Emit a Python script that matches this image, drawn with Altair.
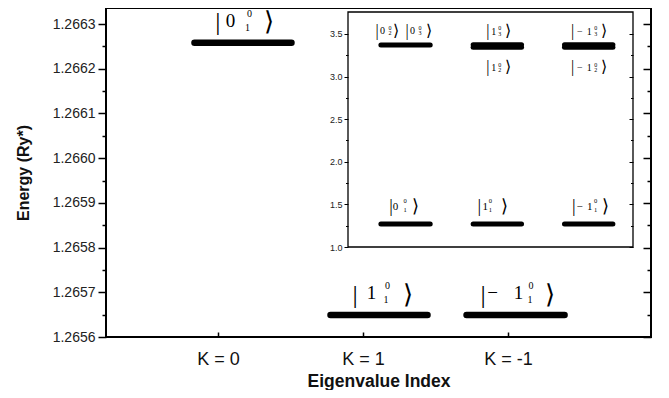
import altair as alt
import pandas as pd

# ---------------- data ----------------
k_labels = ["K = 0", "K = 1", "K = -1"]
k_positions = [1, 2, 3]

main_start = [0.838, 1.776, 2.714]
main_end = [1.507, 2.445, 3.390]
main_energy = [1.266258, 1.265649, 1.265649]
main_prefix = ["0", "1", "−1"]
main_sup = ["0", "0", "0"]
main_sub = ["1", "1", "1"]
main_y_major = [1.2656, 1.2657, 1.2658, 1.2659, 1.2660, 1.2661, 1.2662, 1.2663]
main_y_minor = [1.26565, 1.26575, 1.26585, 1.26595, 1.26605, 1.26615, 1.26625]

inset_start = [0.73, 1.74, 2.74, 0.73, 1.74, 1.74, 2.74, 2.74]
inset_end = [1.27, 2.27, 3.27, 1.27, 2.27, 2.27, 3.27, 3.27]
inset_energy = [1.27, 1.27, 1.27, 3.37, 3.345, 3.375, 3.345, 3.375]
inset_y_major = [1.0, 1.5, 2.0, 2.5, 3.0, 3.5]
inset_y_minor = [1.25, 1.75, 2.25, 2.75, 3.25]
inset_low_prefix = ["0", "1", "−1"]
inset_low_sub = ["1", "1", "1"]
inset_up_energy = [3.37, 3.36, 3.36]
inset_up_above = [["2", "3"], ["3"], ["3"]]
inset_up_below = [[], ["2"], ["2"]]

MAIN_X_DOMAIN = [0.228, 3.986]
MAIN_Y_DOMAIN = [1.2656, 1.266336]
INSET_X_DOMAIN = [0.37, 3.49]
INSET_Y_DOMAIN = [1.0, 3.758]

W, H = 545, 329
FONT = "Liberation Sans"
SERIF = "Liberation Serif"

mx = alt.Scale(domain=MAIN_X_DOMAIN, nice=False, zero=False)
my = alt.Scale(domain=MAIN_Y_DOMAIN, nice=False, zero=False)
ix = alt.Scale(domain=INSET_X_DOMAIN, range=[242, 527], nice=False, zero=False)
iy = alt.Scale(domain=INSET_Y_DOMAIN, range=[239, 4], nice=False, zero=False)

main_df = pd.DataFrame({"start": main_start, "end": main_end, "energy": main_energy})
inset_df = pd.DataFrame({"start": inset_start, "end": inset_end, "energy": inset_energy})
frame_df = pd.DataFrame({"x1": [INSET_X_DOMAIN[0]], "x2": [INSET_X_DOMAIN[1]],
                         "y1": [INSET_Y_DOMAIN[0]], "y2": [INSET_Y_DOMAIN[1]]})

# ---------------- ket typesetting (pixel layout relative to level centre) ----------------
rows_main = []
rows_inset = []


def add_ket(rows, x, y, prefix, sup, sub, bar_dx, pre_dx, ss_dx, close_dx, dys, sizes):
    big, mid, small = sizes
    d_bar, d_pre, d_sup, d_sub, d_close = dys
    rows.append(dict(x=x, y=y, t="|", dx=bar_dx, dy=d_bar, fs=big))
    toks = ["−", "1"] if prefix == "−1" else [prefix]
    for tok, pdx in zip(toks, pre_dx):
        rows.append(dict(x=x, y=y, t=tok, dx=pdx, dy=d_pre, fs=mid))
    rows.append(dict(x=x, y=y, t=sup, dx=ss_dx[0], dy=d_sup, fs=small))
    rows.append(dict(x=x, y=y, t=sub, dx=ss_dx[1], dy=d_sub, fs=small))
    rows.append(dict(x=x, y=y, t="⟩", dx=close_dx, dy=d_close, fs=big))


main_layout = [
    (-25, [-12.5], (6.5, 4.5), 26.5),
    (-24, [-7.5], (8.5, 7), 29),
    (-32.5, [-23, 3], (15.5, 14.5), 34.5),
]
for i in range(3):
    cx = (main_start[i] + main_end[i]) / 2
    b, p, s, c = main_layout[i]
    add_ket(rows_main, cx, main_energy[i], main_prefix[i], main_sup[i], main_sub[i],
            b, p, s, c, (-20.5, -22, -29, -15, -20.5), (26, 19, 10))

inset_centres = [(inset_start[i] + inset_end[i]) / 2 for i in range(3)]
low_layout = [
    (-14.5, [-10], (-0.5, -0.5), 10),
    (-18, [-12], (-7, -7), 7.5),
    (-15, [-9, 1], (7, 7), 16.5),
]
for i in range(3):
    b, p, s, c = low_layout[i]
    add_ket(rows_inset, inset_centres[i], inset_energy[i], inset_low_prefix[i], "0", inset_low_sub[i],
            b, p, s, c, (-17, -17, -22.5, -13.5, -17), (18, 11, 6.5))

up_layout = [
    [(-28.5, [-23], (-15.5, -15.5), -10), (1.5, [7], (14.5, 14.5), 23)],
    [(-9.5, [-3.5], (2.5, 2.5), 10.5)],
    [(-16, [-9, 0.5], (7, 7), 15)],
]
for i in range(3):
    for j, sub in enumerate(inset_up_above[i]):
        b, p, s, c = up_layout[i][j]
        add_ket(rows_inset, inset_centres[i], inset_up_energy[i], inset_low_prefix[i], "0", sub,
                b, p, s, c, (-14.5, -14, -17.5, -12, -14.5), (16, 10, 6))
    for j, sub in enumerate(inset_up_below[i]):
        b, p, s, c = up_layout[i][j]
        add_ket(rows_inset, inset_centres[i], inset_up_energy[i], inset_low_prefix[i], "0", sub,
                b, p, s, c, (21.5, 22, 19, 24.5, 21.5), (16, 10, 6))

kets_main_df = pd.DataFrame(rows_main)
kets_inset_df = pd.DataFrame(rows_inset)

label_expr = " : ".join(
    f"datum.value == {p} ? '{l}'" for p, l in zip(k_positions[:-1], k_labels[:-1])
) + f" : '{k_labels[-1]}'"

# ---------------- main panel ----------------
main_bars = alt.Chart(main_df).mark_rule(strokeWidth=6.5, strokeCap="round", color="black").encode(
    x=alt.X("start:Q", scale=mx, axis=alt.Axis(
        orient="bottom", values=k_positions, labelExpr=label_expr, ticks=False, domain=False,
        grid=False, labelFont=FONT, labelFontSize=18, labelColor="#111", labelPadding=13,
        title="Eigenvalue Index", titleFont=FONT, titleFontSize=17.5, titleFontWeight="bold",
        titleColor="#111", titlePadding=4)),
    x2="end:Q",
    y=alt.Y("energy:Q", scale=my, axis=alt.Axis(
        orient="left", values=main_y_major, format=".4f", tickSize=8, tickWidth=1.5,
        tickColor="black", domain=False, grid=False, labelFont=FONT, labelFontSize=14,
        labelColor="#222", labelPadding=3, title="Energy (Ry*)", titleFont=FONT,
        titleFontSize=16, titleFontWeight="bold", titleColor="#111", titlePadding=21)),
)

text_style = dict(font=SERIF, align="center", baseline="middle", color="black",
                  angle=0.01,
                  dx={"expr": "datum.dx"}, dy={"expr": "datum.dy"})

main_kets = alt.Chart(kets_main_df).mark_text(**text_style).encode(
    x=alt.X("x:Q", scale=mx, axis=alt.Axis(
        orient="top", offset=-H, values=k_positions, tickSize=5, tickWidth=1.5, tickColor="black",
        labels=False, domain=False, grid=False, title="")),
    y=alt.Y("y:Q", scale=my, axis=alt.Axis(
        orient="left", values=main_y_minor, tickSize=4, tickWidth=1.5, tickColor="black",
        labels=False, domain=False, grid=False, title="")),
    text="t:N",
    size=alt.Size("fs:Q", scale=None, legend=None),
)

main_right = alt.Chart(main_df).mark_point(opacity=0).encode(
    x=alt.X("start:Q", scale=mx, axis=None),
    y=alt.Y("energy:Q", scale=my, axis=alt.Axis(
        orient="right", offset=-8, values=main_y_major, tickSize=8, tickWidth=1.5,
        tickColor="black", labels=False, domain=False, grid=False, title="")),
)
main_right_minor = alt.Chart(main_df).mark_point(opacity=0).encode(
    x=alt.X("end:Q", scale=mx, axis=None),
    y=alt.Y("energy:Q", scale=my, axis=alt.Axis(
        orient="right", offset=-4, values=main_y_minor, tickSize=4, tickWidth=1.5,
        tickColor="black", labels=False, domain=False, grid=False, title="")),
)

# ---------------- inset ----------------
inset_frame = alt.Chart(frame_df).mark_rect(fillOpacity=0, stroke="black", strokeWidth=1.3).encode(
    x=alt.X("x1:Q", scale=ix, axis=None),
    x2="x2:Q",
    y=alt.Y("y1:Q", scale=iy, axis=alt.Axis(
        orient="left", offset=-242, values=inset_y_major, format=".1f", tickSize=4,
        tickWidth=1, tickColor="black", labels=True, labelFont=FONT, labelFontSize=9,
        labelColor="#222", labelPadding=2, domain=False, grid=False, title="")),
    y2="y2:Q",
)

inset_bars = alt.Chart(inset_df).mark_rule(strokeWidth=5, strokeCap="round", color="black").encode(
    x=alt.X("start:Q", scale=ix, axis=None),
    x2="end:Q",
    y=alt.Y("energy:Q", scale=iy, axis=alt.Axis(
        orient="left", offset=-242, values=inset_y_minor, tickSize=2.5, tickWidth=1,
        tickColor="black", labels=False, domain=False, grid=False, title="")),
)

inset_kets = alt.Chart(kets_inset_df).mark_text(**text_style).encode(
    x=alt.X("x:Q", scale=ix, axis=None),
    y=alt.Y("y:Q", scale=iy, axis=alt.Axis(
        orient="right", offset=-22, values=inset_y_major, tickSize=4, tickWidth=1,
        tickColor="black", labels=False, domain=False, grid=False, title="")),
    text="t:N",
    size=alt.Size("fs:Q", scale=None, legend=None),
)

inset_right_minor = alt.Chart(inset_df).mark_point(opacity=0).encode(
    x=alt.X("start:Q", scale=ix, axis=None),
    y=alt.Y("energy:Q", scale=iy, axis=alt.Axis(
        orient="right", offset=-20.5, values=inset_y_minor, tickSize=2.5, tickWidth=1,
        tickColor="black", labels=False, domain=False, grid=False, title="")),
)

chart = alt.layer(
    main_bars, main_kets, main_right, main_right_minor,
    inset_frame, inset_bars, inset_kets, inset_right_minor,
).resolve_scale(x="independent", y="independent").properties(
    width=W, height=H,
    padding={"left": 98, "top": 0, "right": 10, "bottom": 53},
    autosize=alt.AutoSizeParams(type="none"),
    background="white",
).configure_view(stroke="black", strokeWidth=2)

chart.save("out.html", embed_options={"renderer": "svg", "actions": False})
